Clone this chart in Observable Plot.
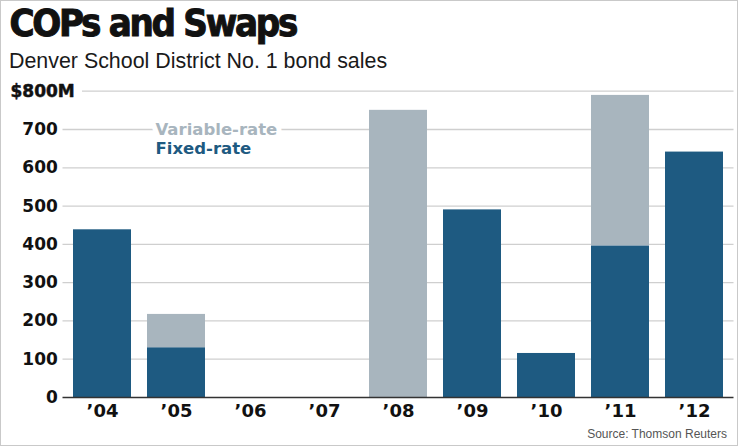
<!DOCTYPE html>
<html>
<head>
<meta charset="utf-8">
<script src="https://cdn.jsdelivr.net/npm/d3@7"></script>
<script src="https://cdn.jsdelivr.net/npm/@observablehq/plot@0.6"></script>
<style>
  body { margin: 0; background: #fff; }
  #wrap { position: relative; width: 740px; height: 448px; overflow: hidden; background: #fff; }
  #frame { position: absolute; left: 0; top: 0; width: 738px; height: 446px; box-sizing: border-box; border: 1.5px solid #c9c9c9; pointer-events: none; }
  #title { position: absolute; left: 9.5px; top: 4px; margin: 0; font-family: "DejaVu Sans Condensed", "DejaVu Sans", sans-serif; font-stretch: condensed; font-weight: bold; font-size: 38px; line-height: 38px; letter-spacing: -2.3px; -webkit-text-stroke: 1px #111; color: #111; white-space: nowrap; }
  #subtitle { position: absolute; left: 9px; top: 51.2px; margin: 0; font-family: "Liberation Sans", Arial, sans-serif; font-size: 21.4px; line-height: 21.4px; color: #1a1a1a; white-space: nowrap; }
  #chart { position: absolute; left: 0; top: 78px; }
  #caption { position: absolute; right: 13px; top: 428px; font-family: "Liberation Sans", Arial, sans-serif; font-size: 12px; line-height: 12px; color: #555; white-space: nowrap; }
</style>
</head>
<body>
<div id="wrap">
  <div id="title">COPs and Swaps</div>
  <div id="subtitle">Denver School District No. 1 bond sales</div>
  <div id="chart"></div>
  <div id="caption">Source: Thomson Reuters</div>
  <div id="frame"></div>
</div>
<script>
// ---- data (millions of dollars) ----
const years = ["’04", "’05", "’06", "’07", "’08", "’09", "’10", "’11", "’12"];
const fixedRate = [438, 130, 0, 0, 0, 490, 115, 396, 641];
const variableRate = [0, 87, 0, 0, 750, 0, 0, 393, 0];
const seriesNames = ["Fixed-rate", "Variable-rate"];
const seriesColors = ["#1e5a81", "#a8b5be"];
const yTicks = [0, 100, 200, 300, 400, 500, 600, 700];
const topTick = [800];
const topTickLabel = "$800M";

const rows = [];
years.forEach((yr, i) => {
  rows.push({year: yr, type: seriesNames[0], value: fixedRate[i]});
  rows.push({year: yr, type: seriesNames[1], value: variableRate[i]});
});

const font = "DejaVu Sans, sans-serif";
const heavy = {fontWeight: "bold", fill: "#111", stroke: "#111", strokeWidth: 0.5};

const chart = Plot.plot({
  width: 740,
  height: 350,
  marginTop: 12.7,
  marginBottom: 31,
  marginLeft: 62.5,
  marginRight: 6.5,
  style: {fontFamily: font, background: "transparent"},
  x: {type: "band", domain: years, paddingInner: 0.21, paddingOuter: 0.1, axis: null},
  y: {domain: [0, 800], axis: null},
  color: {domain: seriesNames, range: seriesColors},
  marks: [
    Plot.ruleY(yTicks.filter(d => d > 0), {stroke: "#cfcfcf", strokeWidth: 1.3}),
    Plot.ruleY(topTick, {stroke: "#cfcfcf", strokeWidth: 1.3, insetLeft: 19.5}),
    Plot.barY(rows, {x: "year", y: "value", fill: "type", order: seriesNames}),
    Plot.ruleY([0], {stroke: "#333", strokeWidth: 1.5}),
    Plot.axisY({ticks: yTicks, tickSize: 0, tickPadding: 5.2, fontSize: 17, label: null, ...heavy}),
    Plot.text(topTick, {y: d => d, text: () => topTickLabel, frameAnchor: "left", dx: -52.5, textAnchor: "start", fontSize: 17, ...heavy}),
    Plot.axisX({tickSize: 0, tickPadding: 6.5, fontSize: 18, label: null, ...heavy}),
    Plot.text([seriesNames[1]], {y: [700], text: d => d, frameAnchor: "left", dx: 92.5, textAnchor: "start", fontSize: 16.5, fontWeight: "bold", fill: seriesColors[1], stroke: "white", strokeWidth: 10}),
    Plot.text([seriesNames[0]], {y: [650], text: d => d, frameAnchor: "left", dx: 92.5, textAnchor: "start", fontSize: 16.5, fontWeight: "bold", fill: seriesColors[0]})
  ]
});
document.getElementById("chart").appendChild(chart);
</script>
</body>
</html>
